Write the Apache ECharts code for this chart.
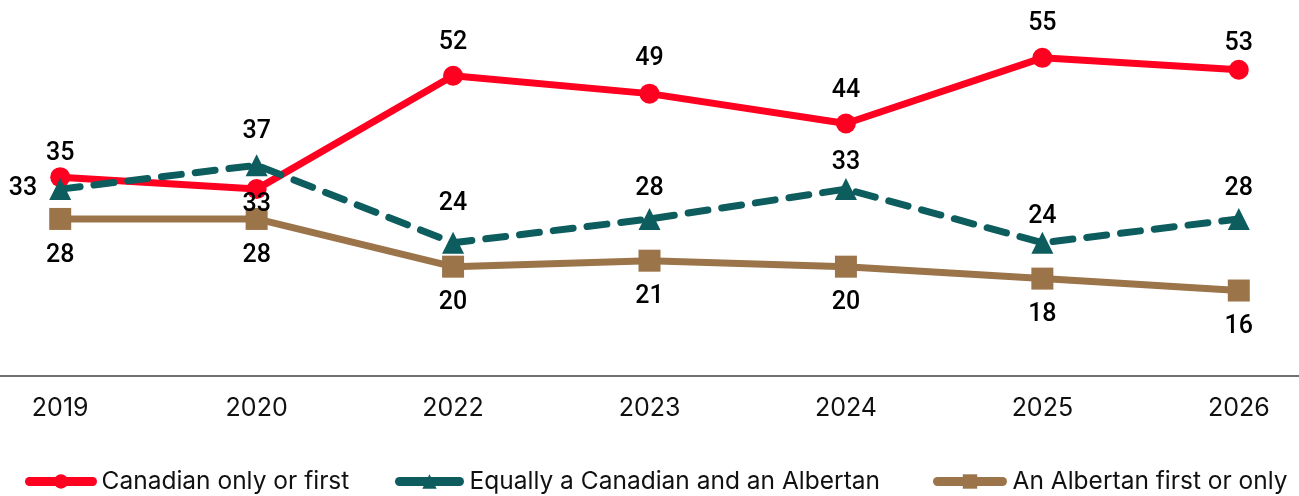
<!DOCTYPE html>
<html>
<head>
<meta charset="utf-8">
<script src="https://cdn.jsdelivr.net/npm/echarts@6/dist/echarts.min.js"></script>
<style>
  html, body { margin: 0; padding: 0; background: #fff; }
  #chart { width: 1299px; height: 496px; }
</style>
</head>
<body>
<div id="chart"></div>
<script>
// 数据
const years = ['2019', '2020', '2022', '2023', '2024', '2025', '2026'];
const canadianFirst = [35, 33, 52, 49, 44, 55, 53];
const equallyBoth = [33, 37, 24, 28, 33, 24, 28];
const albertanFirst = [28, 28, 20, 21, 20, 18, 16];
const seriesNames = ['Canadian only or first', 'Equally a Canadian and an Albertan', 'An Albertan first or only'];

// label placement per point
const redLabelPos = ['top', 'bottom', 'top', 'top', 'top', 'top', 'top'];
const redLabelDist = [1, -7, 10, 12, 10, 12, 4];
const tealLabelPos = ['left', 'top', 'top', 'top', 'top', 'top', 'top'];
const tealLabelDist = [12, 10, 16, 7, 3, 3, 7];

const labelFont = {
  color: '#000',
  fontFamily: 'Roboto',
  fontWeight: 500,
  fontSize: 25
};

const legendText = { fontFamily: 'Inter', fontSize: 24.5, color: '#111' };

const chart = echarts.init(document.getElementById('chart'));

const option = {
  animation: false,
  grid: {
    left: -38,
    right: -38,
    top: 28,
    bottom: 110,
    outerBoundsMode: 'none'
  },
  legend: [
    {
      data: [seriesNames[0]], left: 25, bottom: 2, padding: 0,
      itemWidth: 63, itemHeight: 18,
      lineStyle: { width: 9, cap: 'round' },
      textStyle: { ...legendText, padding: [0, 0, 0, 4] }
    },
    {
      data: [seriesNames[1]], left: 395, bottom: 2, padding: 0,
      itemWidth: 60, itemHeight: 18,
      lineStyle: { width: 9, cap: 'round', type: 'solid' },
      textStyle: { ...legendText, padding: [0, 0, 0, 5] }
    },
    {
      data: [seriesNames[2]], left: 933, bottom: 2, padding: 0,
      itemWidth: 65, itemHeight: 18,
      lineStyle: { width: 9, cap: 'round' },
      textStyle: { ...legendText, padding: [0, 0, 0, 5] }
    }
  ],
  xAxis: {
    type: 'category',
    data: years,
    boundaryGap: true,
    offset: -10,
    axisLine: { lineStyle: { color: '#404040', width: 1.5 } },
    axisTick: { show: false },
    axisLabel: {
      margin: 20,
      color: '#111',
      fontFamily: 'Inter',
      fontSize: 25
    }
  },
  yAxis: {
    type: 'value',
    min: 0,
    max: 60,
    show: false,
    splitLine: { show: false }
  },
  series: [
    {
      name: seriesNames[2],
      type: 'line',
      z: 2,
      data: albertanFirst,
      symbol: 'rect',
      symbolSize: 22,
      itemStyle: { color: '#9B744A' },
      lineStyle: { color: '#9B744A', width: 7 },
      label: { show: true, position: 'bottom', distance: 13, ...labelFont }
    },
    {
      name: seriesNames[0],
      type: 'line',
      z: 3,
      data: canadianFirst.map((v, i) => ({
        value: v,
        label: { position: redLabelPos[i], distance: redLabelDist[i] }
      })),
      symbol: 'circle',
      symbolSize: 20,
      itemStyle: { color: '#FF0020' },
      lineStyle: { color: '#FF0020', width: 7 },
      label: { show: true, ...labelFont }
    },
    {
      name: seriesNames[1],
      type: 'line',
      z: 4,
      data: equallyBoth.map((v, i) => ({
        value: v,
        label: { position: tealLabelPos[i], distance: tealLabelDist[i] }
      })),
      symbol: 'triangle',
      symbolSize: 22,
      itemStyle: { color: '#0D5C5E' },
      lineStyle: { color: '#0D5C5E', width: 7, type: [20, 14], cap: 'round' },
      label: { show: true, ...labelFont }
    }
  ]
};

chart.setOption(option);
</script>
</body>
</html>
